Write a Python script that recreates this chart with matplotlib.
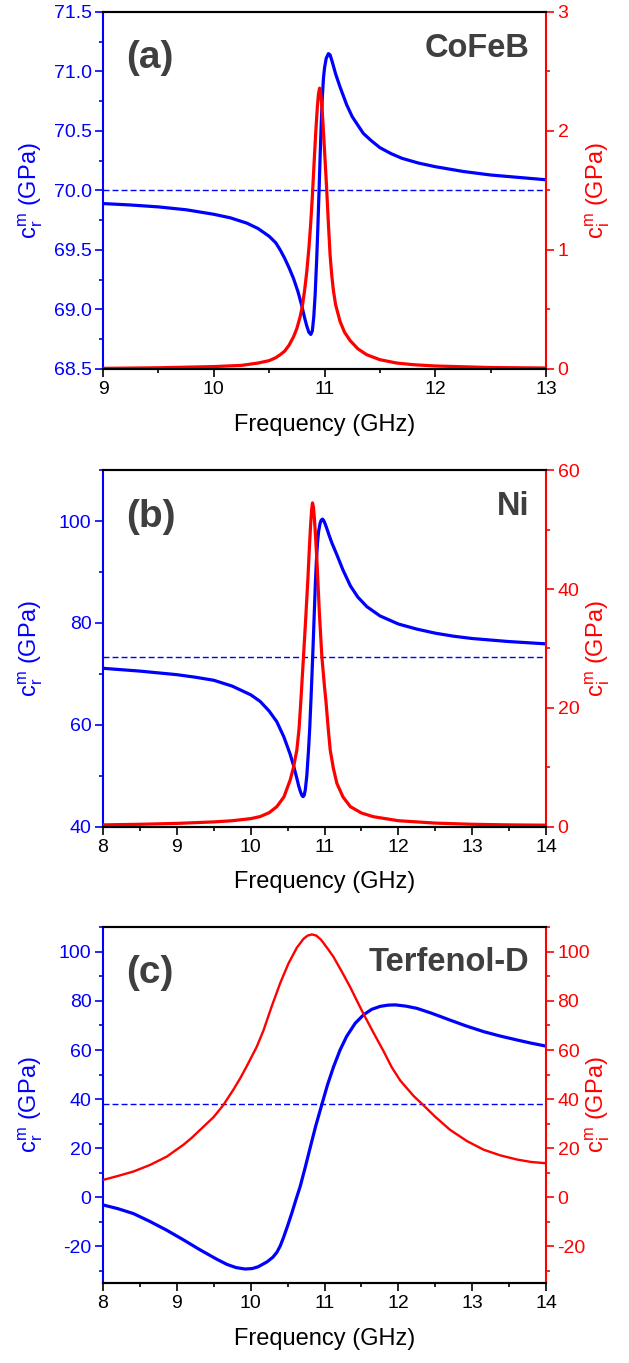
"""
Real and imaginary magnetoelastic stiffness vs. frequency
for CoFeB, Ni and Terfenol-D (three stacked panels)
"""

# %% Preamble

import matplotlib
matplotlib.use('Agg')
import matplotlib.pyplot as plt
from matplotlib.ticker import MultipleLocator

plt.rcParams['font.family'] = ['Liberation Sans', 'DejaVu Sans']
plt.rcParams['mathtext.fontset'] = 'custom'
plt.rcParams['mathtext.rm'] = 'Liberation Sans'
plt.rcParams['axes.unicode_minus'] = False

BLUE = '#0000ff'
RED = '#ff0000'
GREY = '#3f3f3f'

# %% Data (GHz, GPa)

# (a) CoFeB
freq_a_cr = [9.0, 9.25, 9.5, 9.75, 10.0, 10.15, 10.3, 10.4, 10.5, 10.56,
             10.6, 10.64, 10.68, 10.72, 10.76, 10.795, 10.82, 10.84, 10.858,
             10.876, 10.89, 10.903, 10.915, 10.93, 10.94, 10.95, 10.96, 10.97,
             10.98, 10.99, 11.0, 11.015, 11.035, 11.05, 11.07, 11.1, 11.14,
             11.2, 11.25, 11.3, 11.35, 11.42, 11.5, 11.6, 11.7, 11.85, 12.0,
             12.25, 12.5, 12.75, 13.0]
cr_a = [69.89, 69.878, 69.862, 69.838, 69.80, 69.77, 69.725, 69.68, 69.615, 69.56,
        69.50, 69.43, 69.35, 69.26, 69.15, 69.03, 68.93, 68.86, 68.81,
        68.79, 68.82, 68.94, 69.12, 69.44, 69.70, 69.98, 70.28, 70.56,
        70.78, 70.94, 71.03, 71.11, 71.15, 71.14, 71.08, 70.98, 70.87,
        70.72, 70.62, 70.55, 70.48, 70.42, 70.36, 70.31, 70.27, 70.23, 70.20,
        70.16, 70.13, 70.11, 70.09]
freq_a_ci = [9.0, 9.5, 10.0, 10.25, 10.4, 10.5, 10.56, 10.6, 10.64, 10.68,
             10.72, 10.75, 10.78, 10.8, 10.82, 10.84, 10.86, 10.875, 10.89,
             10.905, 10.92, 10.935, 10.945, 10.955, 10.965, 10.975, 10.985,
             10.996, 11.01, 11.02, 11.035, 11.05, 11.065, 11.08, 11.1, 11.14,
             11.18, 11.23, 11.3, 11.38, 11.5, 11.65, 11.8, 12.0, 12.5, 13.0]
ci_a = [0.005, 0.01, 0.02, 0.03, 0.05, 0.07, 0.095, 0.12, 0.15, 0.20,
        0.27, 0.34, 0.44, 0.53, 0.66, 0.82, 1.03, 1.22, 1.45,
        1.72, 1.98, 2.20, 2.31, 2.36, 2.32, 2.22, 2.08,
        1.90, 1.67, 1.50, 1.22, 0.96, 0.79, 0.66, 0.54, 0.40,
        0.31, 0.24, 0.17, 0.12, 0.078, 0.05, 0.036, 0.025, 0.012, 0.008]
cr0_a = 70.0

# (b) Ni
freq_b_cr = [8.0, 8.5, 9.0, 9.25, 9.5, 9.75, 10.0, 10.128, 10.25,
             10.354, 10.45, 10.535, 10.58, 10.625, 10.65, 10.675, 10.695,
             10.71, 10.725, 10.74, 10.76, 10.783, 10.8, 10.815, 10.83, 10.845,
             10.86, 10.875, 10.89, 10.905, 10.92, 10.94, 10.955, 10.973, 10.99,
             11.01, 11.03, 11.06, 11.1, 11.167, 11.25, 11.35, 11.45, 11.574,
             11.75, 12.0, 12.25, 12.5, 12.75, 13.0, 13.5, 14.0]
cr_b = [71.1, 70.55, 69.85, 69.35, 68.75, 67.6, 65.9, 64.6, 62.7,
        60.6, 57.6, 54.2, 52.0, 49.5, 48.0, 46.8, 46.1,
        45.9, 46.2, 47.3, 50.0, 55.0, 59.5, 64.5, 69.8, 75.5,
        81.5, 87.5, 92.3, 95.8, 98.0, 99.6, 100.2, 100.4, 100.1,
        99.4, 98.6, 97.3, 95.7, 93.4, 90.4, 87.3, 85.1, 83.2,
        81.4, 79.8, 78.8, 78.0, 77.4, 76.95, 76.35, 75.9]
freq_b_ci = [8.0, 8.5, 9.0, 9.5, 9.75, 10.0, 10.128, 10.25, 10.354, 10.45,
             10.535, 10.58, 10.625, 10.655, 10.68, 10.715, 10.745, 10.775,
             10.795, 10.81, 10.825, 10.837, 10.85, 10.865, 10.88, 10.9, 10.93,
             10.964, 11.0, 11.02, 11.05, 11.077, 11.12, 11.167, 11.25, 11.35,
             11.5, 11.66, 12.0, 12.5, 13.0, 13.5, 14.0]
ci_b = [0.3, 0.4, 0.55, 0.8, 1.0, 1.35, 1.7, 2.35, 3.37, 5.0,
        7.86, 10.0, 12.9, 16.5, 21.3, 28.6, 35.0, 41.8,
        47.0, 50.5, 53.3, 54.5, 53.8, 51.5, 48.5, 44.0, 36.0,
        28.6, 23.5, 21.0, 16.5, 12.9, 9.8, 7.3, 5.0, 3.37,
        2.3, 1.68, 1.0, 0.6, 0.4, 0.3, 0.25]
cr0_b = 73.4

# (c) Terfenol-D
freq_c_cr = [8.0, 8.2, 8.41, 8.637, 8.863, 9.088, 9.315, 9.54, 9.677, 9.8,
             9.925, 10.02, 10.1, 10.22, 10.3, 10.354, 10.4, 10.444, 10.5,
             10.557, 10.61, 10.67, 10.74, 10.806, 10.88, 10.964, 11.04, 11.12,
             11.21, 11.30, 11.415, 11.53, 11.64, 11.755, 11.86, 11.96, 12.1,
             12.25, 12.45, 12.70, 12.92, 13.155, 13.38, 13.607, 13.8, 14.0]
cr_c = [-3.1, -4.6, -6.6, -9.85, -13.4, -17.3, -21.4, -25.2, -27.3, -28.6,
        -29.2, -29.0, -28.3, -26.3, -24.4, -22.4, -19.8, -16.4, -11.6,
        -6.4, -1.2, 4.4, 12.4, 20.3, 29.0, 37.9, 45.8, 53.0,
        60.0, 65.6, 70.9, 74.4, 76.6, 77.8, 78.3, 78.4, 77.9,
        77.0, 75.0, 72.2, 69.8, 67.5, 65.7, 64.1, 62.8, 61.6]
freq_c_ci = [8.0, 8.2, 8.41, 8.637, 8.863, 9.088, 9.2, 9.315, 9.495, 9.63,
             9.766, 9.86, 9.948, 10.083, 10.173, 10.287, 10.40, 10.512,
             10.625, 10.715, 10.77, 10.83, 10.89, 10.95, 10.986, 11.05, 11.12,
             11.235, 11.35, 11.44, 11.53, 11.664, 11.8, 11.91, 12.025, 12.206,
             12.34, 12.5, 12.70, 12.93, 13.155, 13.38, 13.607, 13.8, 14.0]
ci_c = [7.1, 8.7, 10.5, 13.2, 16.6, 21.4, 24.2, 27.5, 32.6, 37.6,
        43.9, 48.6, 53.5, 61.4, 68.0, 78.0, 87.3, 95.3,
        101.7, 105.3, 106.6, 107.1, 106.6, 105.0, 103.6, 101.0, 98.0,
        91.9, 85.5, 80.0, 74.6, 67.0, 59.5, 53.0, 47.6, 41.3,
        37.5, 32.8, 27.5, 22.9, 19.4, 17.1, 15.4, 14.4, 13.9]
cr0_c = 38.0


# %% Plot

def style_axis(ax, color, side):
    ax.tick_params(axis='y', which='both', direction='out', colors=color,
                   labelsize=14, width=1.2, pad=2.5)
    ax.tick_params(axis='y', which='major', length=5.8)
    ax.tick_params(axis='y', which='minor', length=3)
    ax.spines[side].set_color(color)


def plot_panel(rect, f_r, cr, f_i, ci, cr0, xlim, ylim_r, ylim_i,
               major_r, major_i, label, name):
    ax = fig.add_axes(rect)
    ax2 = ax.twinx()

    ax.plot(f_r, cr, color=BLUE, lw=2.3, solid_joinstyle='round')
    ax.axhline(cr0, color=BLUE, lw=1.0, ls=(0, (4.3, 2.2)))
    ax2.plot(f_i, ci, color=RED, lw=2.3 if name != 'Terfenol-D' else 1.7,
             solid_joinstyle='round')

    ax.set_xlim(xlim)
    ax.set_ylim(ylim_r)
    ax2.set_ylim(ylim_i)

    ax.xaxis.set_major_locator(MultipleLocator(1))
    ax.xaxis.set_minor_locator(MultipleLocator(0.5))
    ax.yaxis.set_major_locator(MultipleLocator(major_r))
    ax.yaxis.set_minor_locator(MultipleLocator(major_r / 2))
    ax2.yaxis.set_major_locator(MultipleLocator(major_i))
    ax2.yaxis.set_minor_locator(MultipleLocator(major_i / 2))
    if major_r < 1:
        ax.yaxis.set_major_formatter('{x:.1f}')

    ax.tick_params(axis='x', which='both', direction='out', colors='k',
                   labelsize=14, width=1.2, pad=3)
    ax.tick_params(axis='x', which='major', length=5.8)
    ax.tick_params(axis='x', which='minor', length=3)
    style_axis(ax, BLUE, 'left')
    style_axis(ax2, RED, 'right')

    for a in (ax, ax2):
        for s in a.spines.values():
            s.set_linewidth(1.5)
    ax2.spines['left'].set_visible(False)
    ax.spines['right'].set_visible(False)

    ax.set_xlabel('Frequency (GHz)', fontsize=17)
    ax.xaxis.set_label_coords(0.5, -0.125)
    ax.set_ylabel(r'c$\mathregular{^{m}_{r}}$ (GPa)', fontsize=17, color=BLUE)
    ax.yaxis.set_label_coords(-0.132, 0.5)
    ax2.set_ylabel(r'c$\mathregular{^{m}_{i}}$ (GPa)', fontsize=17, color=RED)
    ax2.yaxis.set_label_coords(1.085, 0.5)

    ax.text(0.052, 0.87, label, transform=ax.transAxes, fontsize=28,
            fontweight='bold', color=GREY, va='center', ha='left')
    ax2.text(0.962, 0.899, name, transform=ax.transAxes, fontsize=23.5,
             fontweight='bold', color=GREY, va='center', ha='right')
    return ax, ax2


fig = plt.figure(figsize=(6.29, 13.63), dpi=100)

plot_panel([0.1638, 0.7293, 0.7043, 0.2619], freq_a_cr, cr_a, freq_a_ci, ci_a,
           cr0_a, (9, 13), (68.5, 71.5), (0, 3), 0.5, 1, '(a)', 'CoFeB')
plot_panel([0.1638, 0.3935, 0.7043, 0.2615], freq_b_cr, cr_b, freq_b_ci, ci_b,
           cr0_b, (8, 14), (40, 110), (0, 60), 20, 20, '(b)', 'Ni')
plot_panel([0.1638, 0.0585, 0.7043, 0.2617], freq_c_cr, cr_c, freq_c_ci, ci_c,
           cr0_c, (8, 14), (-35, 110.3), (-35, 110.3), 20, 20, '(c)', 'Terfenol-D')

# Save
fig.savefig('out.png', dpi=100)
